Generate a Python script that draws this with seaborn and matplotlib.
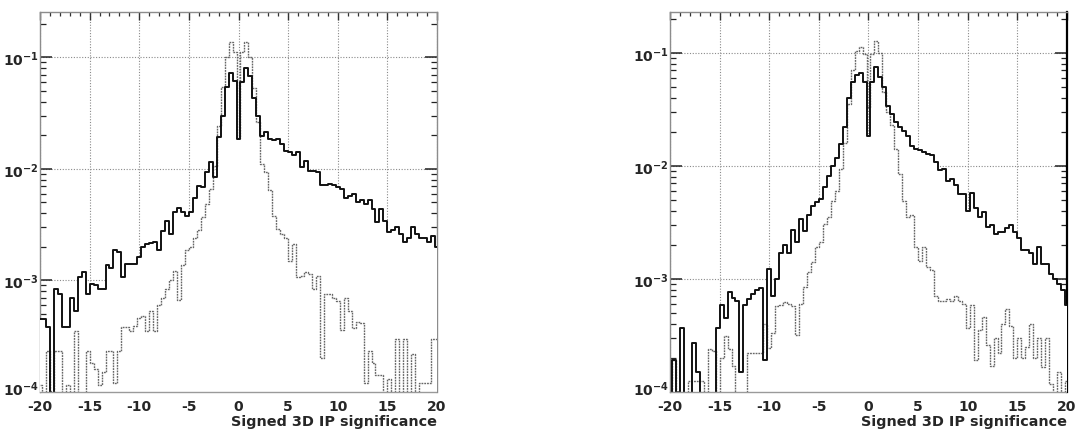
import numpy as np
import pandas as pd
import matplotlib
matplotlib.use("Agg")
import matplotlib.pyplot as plt
import matplotlib.transforms as mtransforms
import seaborn as sns
from matplotlib.ticker import FixedLocator, MultipleLocator, LogLocator, NullFormatter

# ---------------- data ----------------
bin_low, bin_high, n_bins = -20.2, 20.2, 101          # 0.4-wide bins centred on -20 ... 20
x_ticks = [-20, -15, -10, -5, 0, 5, 10, 15, 20]
x_tick_labels = ["-20", "-15", "-10", "-5", "0", "5", "10", "15", "20"]
y_ticks = [1e-4, 1e-3, 1e-2, 1e-1]
y_tick_labels = [r"$\mathbf{10^{-4}}$", r"$\mathbf{10^{-3}}$",
                 r"$\mathbf{10^{-2}}$", r"$\mathbf{10^{-1}}$"]
x_label = "Signed 3D IP significance"
y_top = [0.254, 0.229]

left_black = [
    4.5e-4, 4.5e-4, 3.8e-4, 0, 8.4e-4, 7.5e-4, 3.8e-4, 3.8e-4, 7.0e-4, 5.3e-4,
    1.06e-3, 1.18e-3, 7.5e-4, 9.3e-4, 9.0e-4, 8.4e-4, 8.4e-4, 1.36e-3, 1.3e-3, 1.85e-3,
    1.78e-3, 1.06e-3, 1.4e-3, 1.4e-3, 1.4e-3, 1.61e-3, 2.0e-3, 2.1e-3, 2.15e-3, 2.19e-3,
    1.85e-3, 2.79e-3, 3.43e-3, 2.6e-3, 4.07e-3, 4.45e-3, 4.07e-3, 3.8e-3, 4.07e-3, 5.5e-3,
    7.06e-3, 6.9e-3, 9.3e-3, 1.14e-2, 8.4e-3, 1.92e-2, 3.0e-2, 5.4e-2, 7.3e-2, 6.2e-2,
    1.85e-2, 6.0e-2, 8.1e-2, 6.85e-2, 4.3e-2, 3.0e-2, 1.95e-2, 2.12e-2, 1.85e-2, 1.8e-2,
    1.85e-2, 1.67e-2, 1.46e-2, 1.41e-2, 1.32e-2, 1.41e-2, 1.03e-2, 1.18e-2, 9.6e-3, 9.6e-3,
    9.3e-3, 7.1e-3, 7.1e-3, 7.3e-3, 7.1e-3, 6.8e-3, 6.6e-3, 5.5e-3, 5.7e-3, 5.9e-3,
    5.0e-3, 5.2e-3, 4.8e-3, 5.2e-3, 4.4e-3, 3.3e-3, 4.4e-3, 3.4e-3, 2.7e-3, 2.8e-3,
    3.0e-3, 2.6e-3, 2.2e-3, 2.4e-3, 3.0e-3, 2.6e-3, 2.4e-3, 2.4e-3, 2.2e-3, 2.5e-3,
    2.0e-3]

left_grey = [
    1.15e-4, 0, 2.3e-4, 0, 2.3e-4, 2.3e-4, 0, 1.15e-4, 0, 3.5e-4,
    0, 0, 2.3e-4, 1.8e-4, 1.6e-4, 1.15e-4, 1.5e-4, 2.3e-4, 2.3e-4, 1.2e-4,
    2.3e-4, 3.8e-4, 3.8e-4, 3.5e-4, 3.9e-4, 4.6e-4, 4.8e-4, 3.5e-4, 5.3e-4, 3.5e-4,
    6.0e-4, 7.0e-4, 8.4e-4, 1.0e-3, 1.2e-3, 6.6e-4, 1.36e-3, 1.85e-3, 1.98e-3, 2.4e-3,
    2.8e-3, 3.7e-3, 4.8e-3, 6.6e-3, 1.05e-2, 2.4e-2, 5.4e-2, 0.1, 0.138, 0.111,
    1.9e-2, 0.111, 0.138, 0.1, 5.3e-2, 2.65e-2, 1.1e-2, 9.3e-3, 6.4e-3, 3.8e-3,
    2.9e-3, 2.6e-3, 2.4e-3, 1.5e-3, 2.1e-3, 1.06e-3, 1.1e-3, 1.18e-3, 1.14e-3, 8.4e-4,
    1.1e-3, 2.0e-4, 7.5e-4, 7.5e-4, 7.0e-4, 6.5e-4, 3.6e-4, 7.0e-4, 5.3e-4, 3.7e-4,
    4.2e-4, 4.1e-4, 1.2e-4, 2.3e-4, 1.8e-4, 1.4e-4, 1.4e-4, 0, 1.3e-4, 0,
    3.0e-4, 0, 3.0e-4, 0, 2.2e-4, 0, 1.2e-4, 1.2e-4, 1.2e-4, 3.0e-4,
    3.0e-4]

right_black = [
    0, 1.9e-4, 0, 3.7e-4, 0, 0, 2.7e-4, 1.5e-4, 0, 0,
    0, 0, 3.7e-4, 5.9e-4, 4.5e-4, 7.6e-4, 6.8e-4, 6.3e-4, 1.5e-4, 5.9e-4,
    6.6e-4, 7.3e-4, 7.9e-4, 8.3e-4, 1.9e-4, 1.22e-3, 7.0e-4, 1.0e-3, 1.7e-3, 2.0e-3,
    1.7e-3, 2.7e-3, 2.1e-3, 3.4e-3, 2.65e-3, 3.7e-3, 4.4e-3, 4.8e-3, 5.1e-3, 6.5e-3,
    8.2e-3, 1.0e-2, 1.18e-2, 1.55e-2, 2.2e-2, 4.0e-2, 5.5e-2, 6.4e-2, 6.6e-2, 5.5e-2,
    1.85e-2, 5.5e-2, 7.45e-2, 6.1e-2, 5.0e-2, 3.4e-2, 2.9e-2, 2.43e-2, 2.2e-2, 2.05e-2,
    1.85e-2, 1.51e-2, 1.41e-2, 1.37e-2, 1.32e-2, 1.28e-2, 1.24e-2, 1.08e-2, 9.1e-3, 9.4e-3,
    7.4e-3, 7.6e-3, 6.7e-3, 5.6e-3, 5.6e-3, 4.0e-3, 5.8e-3, 4.2e-3, 3.5e-3, 3.9e-3,
    2.86e-3, 3.0e-3, 2.5e-3, 2.6e-3, 2.6e-3, 2.8e-3, 3.0e-3, 2.6e-3, 2.3e-3, 1.8e-3,
    1.8e-3, 1.7e-3, 1.36e-3, 1.9e-3, 1.36e-3, 1.36e-3, 1.1e-3, 1.0e-3, 9.0e-4, 7.9e-4,
    5.8e-4]

right_grey = [
    0, 1.9e-4, 0, 0, 0, 1.25e-4, 1.25e-4, 1.25e-4, 1.25e-4, 0,
    2.4e-4, 2.3e-4, 0, 2.0e-4, 3.1e-4, 2.4e-4, 1.7e-4, 0, 0, 0,
    2.2e-4, 2.2e-4, 2.2e-4, 2.2e-4, 4.0e-4, 2.45e-4, 3.3e-4, 5.7e-4, 5.8e-4, 6.2e-4,
    6.0e-4, 5.7e-4, 3.2e-4, 6.0e-4, 8.4e-4, 1.14e-3, 1.4e-3, 1.9e-3, 2.1e-3, 3.05e-3,
    3.5e-3, 4.9e-3, 6.0e-3, 9.4e-3, 1.6e-2, 3.5e-2, 7.0e-2, 0.105, 0.112, 0.098,
    3.3e-2, 0.098, 0.127, 0.1, 4.5e-2, 3.0e-2, 2.3e-2, 1.41e-2, 8.5e-3, 4.9e-3,
    3.5e-3, 3.7e-3, 1.9e-3, 1.45e-3, 1.9e-3, 1.26e-3, 1.2e-3, 7.0e-4, 6.4e-4, 6.4e-4,
    6.6e-4, 6.4e-4, 7.0e-4, 6.4e-4, 6.0e-4, 3.7e-4, 5.8e-4, 1.9e-4, 3.5e-4, 4.6e-4,
    2.6e-4, 1.7e-4, 3.0e-4, 2.2e-4, 4.0e-4, 5.4e-4, 3.85e-4, 2.0e-4, 3.0e-4, 2.0e-4,
    2.5e-4, 4.0e-4, 2.0e-4, 3.0e-4, 1.65e-4, 3.0e-4, 1.17e-4, 0, 1.5e-4, 0,
    1.25e-4]

# ---------------- style ----------------
sns.set_theme(style="white")
plt.rcParams["font.family"] = ["DejaVu Sans"]
plt.rcParams["font.weight"] = "bold"
plt.rcParams["mathtext.fontset"] = "dejavusans"

centers = np.linspace(bin_low, bin_high, n_bins + 1)
centers = 0.5 * (centers[:-1] + centers[1:])

fig = plt.figure(figsize=(10.78, 4.31), dpi=100, facecolor="white")
ax_l = fig.add_axes([0.0371, 0.0889, 0.3683, 0.8803])
ax_r = fig.add_axes([0.6215, 0.0889, 0.3683, 0.8803])


def draw_panel(ax, black, grey, ymax, dark_right=False):
    ax.set_yscale("log")
    df = pd.DataFrame({"ip": centers, "black": np.clip(black, 1e-7, None),
                       "grey": np.clip(grey, 1e-7, None)})
    common = dict(data=df, x="ip", bins=n_bins, binrange=(bin_low, bin_high),
                  element="step", ax=ax)
    # white body of the dark histogram hides grid/ticks below it
    sns.histplot(weights="black", fill=True, color="white", alpha=1,
                 linewidth=0, zorder=2, **common)
    sns.histplot(weights="grey", fill=False, color="#666666", linewidth=1.0,
                 linestyle=(0, (1.3, 0.7)), zorder=3, **common)
    sns.histplot(weights="black", fill=False, color="#111111", linewidth=1.4,
                 zorder=4, **common)

    ax.set_xlim(-20, 20)
    ax.set_ylim(1e-4, ymax)
    ax.set_axisbelow(True)

    ax.xaxis.set_major_locator(FixedLocator(x_ticks))
    ax.set_xticklabels(x_tick_labels)
    ax.xaxis.set_minor_locator(MultipleLocator(1))
    ax.yaxis.set_major_locator(FixedLocator(y_ticks))
    ax.set_yticklabels(y_tick_labels)
    ax.yaxis.set_minor_locator(LogLocator(base=10, subs=np.arange(2, 10)))
    ax.yaxis.set_minor_formatter(NullFormatter())

    ax.tick_params(axis="x", which="both", direction="in", top=True, bottom=False,
                   labelbottom=True, labeltop=False, color="#333333", pad=5.5,
                   labelsize=10)
    ax.tick_params(axis="x", which="major", length=6, width=1)
    ax.tick_params(axis="x", which="minor", length=3, width=0.9)
    ax.tick_params(axis="y", which="both", direction="in", left=True, right=True,
                   color="#222222", pad=1, labelsize=10)
    ax.tick_params(axis="y", which="major", length=8.5, width=1.1)
    ax.tick_params(axis="y", which="minor", length=4.3, width=0.9)
    for lab in ax.get_xticklabels() + ax.get_yticklabels():
        lab.set_fontweight("bold")
    # lift the lowest decade label a little so it clears the "-20" below it
    bottom_label = ax.yaxis.get_major_ticks()[0].label1
    bottom_label.set_transform(bottom_label.get_transform()
                               + mtransforms.ScaledTranslation(0, 3 / 72, fig.dpi_scale_trans))

    ax.grid(True, which="major", color="#8a8a8a", linestyle=(0, (1, 1.5)),
            linewidth=0.8)

    for side in ["top", "left", "right"]:
        ax.spines[side].set_color("#8c8c8c")
        ax.spines[side].set_linewidth(1.0)
        ax.spines[side].set_zorder(1)
    ax.spines["bottom"].set_color("#9a9a9a")
    ax.spines["bottom"].set_linestyle((0, (1, 1)))
    ax.spines["bottom"].set_linewidth(1.0)
    ax.spines["bottom"].set_zorder(5)
    if dark_right:
        ax.spines["right"].set_color("#000000")
        ax.spines["right"].set_linewidth(1.6)

    ax.set_ylabel("")
    ax.set_xlabel(x_label, loc="right", fontsize=10.4, fontweight="bold",
                  labelpad=0.8)


draw_panel(ax_l, left_black, left_grey, y_top[0])
draw_panel(ax_r, right_black, right_grey, y_top[1], dark_right=True)

fig.savefig("out.png", dpi=100, facecolor="white")
